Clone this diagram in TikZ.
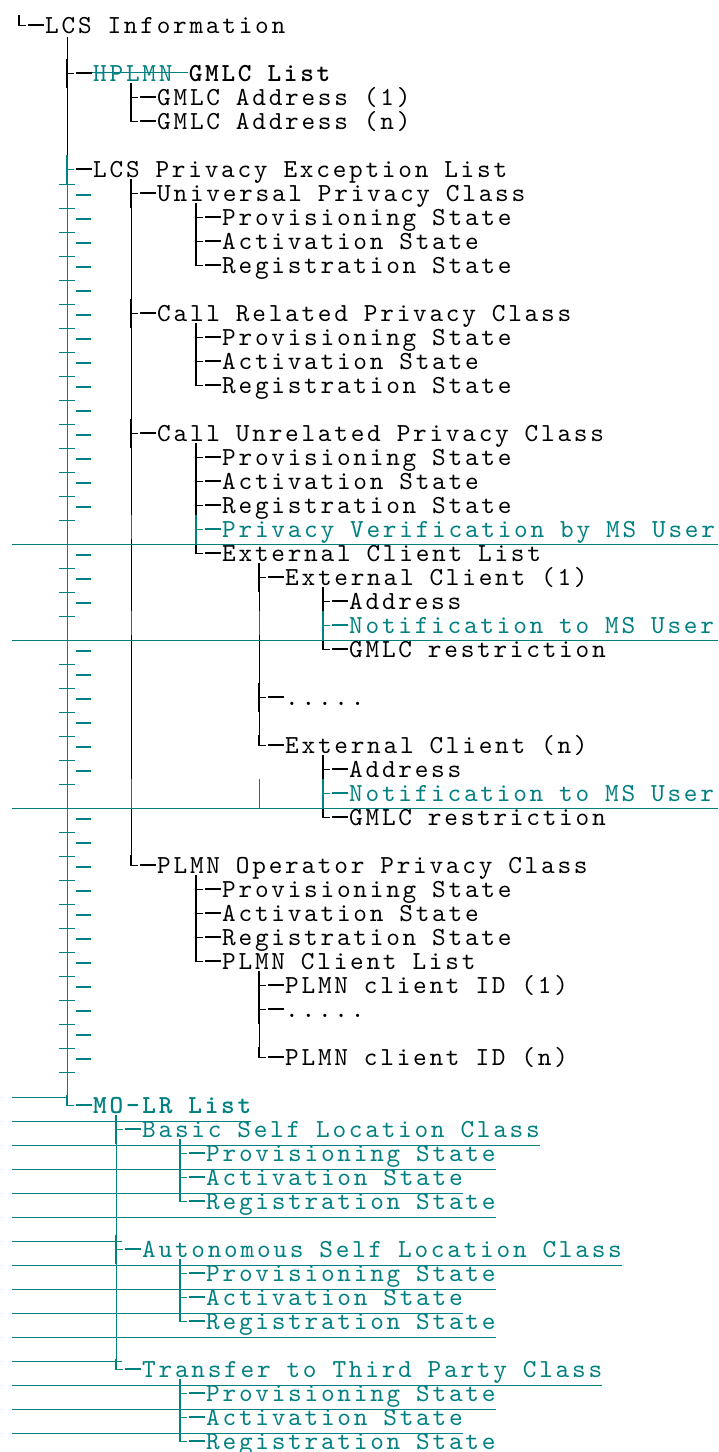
\documentclass[tikz,border=0pt]{standalone}
\usetikzlibrary{positioning}
\font\lcsfont="[lmmono10-regular]:letterspace=10.6" at 26pt
\font\lcsbold="[lmmonolt10-bold]:letterspace=10.6" at 26pt
\fontdimen2\lcsfont=15.9pt \fontdimen3\lcsfont=0pt \fontdimen4\lcsfont=0pt
\fontdimen2\lcsbold=15.9pt \fontdimen3\lcsbold=0pt \fontdimen4\lcsbold=0pt
\definecolor{tracked}{RGB}{0,128,128}
\tikzset{
	lbl/.style={anchor=west, inner sep=0pt, text height=20pt, text depth=4pt, font=\lcsfont},
	added/.style={lbl, text=tracked},
	wire/.style={line width=0.9pt},
	stem/.style={line width=1.6pt},
	stub/.style={line width=2pt},
}
% tree glyphs in front of a node: \tee = branch, \corner = last branch
\newcommand\tee[2][black]{%
	\draw[#1, stem] ([xshift=-26pt,yshift=14pt]#2.west) -- ([xshift=-26pt,yshift=-15pt]#2.west);
	\draw[#1, wire] ([xshift=-26pt]#2.west) -- ([xshift=-19pt]#2.west);
	\draw[#1, stub] ([xshift=-17pt]#2.west) -- ([xshift=-1pt]#2.west);}
\newcommand\corner[2][black]{%
	\draw[#1, stem] ([xshift=-26pt,yshift=10pt]#2.west) -- ([xshift=-26pt,yshift=-1pt]#2.west);
	\draw[#1, wire] ([xshift=-26.8pt]#2.west) -- ([xshift=-19pt]#2.west);
	\draw[#1, stub] ([xshift=-17pt]#2.west) -- ([xshift=-1pt]#2.west);}
% vertical line from a parent down to its last child
\newcommand\trunk[3][black]{%
	\draw[#1, wire] ([xshift=-26pt]#3.west |- #2.south) -- ([xshift=-26pt]#3.west);}
\begin{document}
\begin{tikzpicture}[x=1pt, y=-1pt]
	\useasboundingbox (0,0) rectangle (718,1452);
	% texts
	\node[lbl] (lcs) at (45,25) {LCS Information};
	\node[added] (hplmn) at (93,73) {HPLMN};
	\node[lbl, font=\lcsbold, right=15.9pt of hplmn] (gmlc) {GMLC List};
	\node[lbl] (addrA) at (157,97) {GMLC Address (1)};
	\node[lbl] (addrB) at (157,121) {GMLC Address (n)};
	\node[lbl] (excl) at (93,169) {LCS Privacy Exception List};
	\node[lbl] (univ) at (157,193) {Universal Privacy Class};
	\node[lbl] (univP) at (222,217) {Provisioning State};
	\node[lbl] (univA) at (222,241) {Activation State};
	\node[lbl] (univR) at (222,265) {Registration State};
	\node[lbl] (call) at (157,313) {Call Related Privacy Class};
	\node[lbl] (callP) at (222,337) {Provisioning State};
	\node[lbl] (callA) at (222,361) {Activation State};
	\node[lbl] (callR) at (222,385) {Registration State};
	\node[lbl] (unrel) at (157,433) {Call Unrelated Privacy Class};
	\node[lbl] (unrelP) at (222,457) {Provisioning State};
	\node[lbl] (unrelA) at (222,481) {Activation State};
	\node[lbl] (unrelR) at (222,505) {Registration State};
	\node[added] (verif) at (222,529) {Privacy Verification by MS User};
	\node[lbl] (ecl) at (222,553) {External Client List};
	\node[lbl] (ecA) at (285,577) {External Client (1)};
	\node[lbl] (ecAaddr) at (349,601) {Address};
	\node[added] (ecAnot) at (349,625) {Notification to MS User};
	\node[lbl] (ecAgmlc) at (349,649) {GMLC restriction};
	\node[lbl] (ecDots) at (285,697) {.....};
	\node[lbl] (ecB) at (285,745) {External Client (n)};
	\node[lbl] (ecBaddr) at (349,769) {Address};
	\node[added] (ecBnot) at (349,793) {Notification to MS User};
	\node[lbl] (ecBgmlc) at (349,817) {GMLC restriction};
	\node[lbl] (plmn) at (157,865) {PLMN Operator Privacy Class};
	\node[lbl] (plmnP) at (222,889) {Provisioning State};
	\node[lbl] (plmnA) at (222,913) {Activation State};
	\node[lbl] (plmnR) at (222,937) {Registration State};
	\node[lbl] (pcl) at (222,961) {PLMN Client List};
	\node[lbl] (pcA) at (285,985) {PLMN client ID (1)};
	\node[lbl] (pcDots) at (285,1009) {.....};
	\node[lbl] (pcB) at (285,1057) {PLMN client ID (n)};
	\node[added, font=\lcsbold] (molr) at (93,1105) {MO-LR List};
	\node[added] (basic) at (142,1129) {Basic Self Location Class};
	\node[added] (basicP) at (206,1153) {Provisioning State};
	\node[added] (basicA) at (206,1177) {Activation State};
	\node[added] (basicR) at (206,1201) {Registration State};
	\node[added] (auto) at (142,1249) {Autonomous Self Location Class};
	\node[added] (autoP) at (206,1273) {Provisioning State};
	\node[added] (autoA) at (206,1297) {Activation State};
	\node[added] (autoR) at (206,1321) {Registration State};
	\node[added] (third) at (142,1369) {Transfer to Third Party Class};
	\node[added] (thirdP) at (206,1393) {Provisioning State};
	\node[added] (thirdA) at (206,1417) {Activation State};
	\node[added] (thirdR) at (206,1441) {Registration State};
	% struck out word
	\draw[tracked, wire] ([xshift=-3pt,yshift=1pt]hplmn.west) -- ([xshift=-1pt,yshift=1pt]gmlc.west);
	% main trunk, black then tracked
	\draw[wire] ([xshift=-26pt]hplmn.west |- lcs.south) -- ([xshift=-26pt,yshift=14pt]excl.west);
	\draw[tracked, wire] ([xshift=-26pt,yshift=14pt]excl.west) -- ([xshift=-26pt]molr.west);
	\corner{lcs}
	\tee{hplmn}
	\trunk{hplmn}{addrB}
	\tee{addrA} \corner{addrB}
	\tee[tracked]{excl}
	\draw[stub] ([xshift=-17pt]excl.west) -- ([xshift=-1pt]excl.west);
	\trunk{excl}{plmn}
	\tee{univ} \tee{call} \tee{unrel} \corner{plmn}
	\trunk{univ}{univR}
	\tee{univP} \tee{univA} \corner{univR}
	\trunk{call}{callR}
	\tee{callP} \tee{callA} \corner{callR}
	\trunk{unrel}{ecl}
	\tee{unrelP} \tee{unrelA} \tee{unrelR} \corner{ecl}
	\trunk{ecl}{ecB}
	\tee{ecA} \tee{ecDots} \corner{ecB}
	\trunk{ecA}{ecAgmlc}
	\tee{ecAaddr} \corner{ecAgmlc}
	\trunk{ecB}{ecBgmlc}
	\tee{ecBaddr} \corner{ecBgmlc}
	\trunk{plmn}{pcl}
	\tee{plmnP} \tee{plmnA} \tee{plmnR} \corner{pcl}
	\trunk{pcl}{pcB}
	\tee{pcA} \tee{pcDots} \corner{pcB}
	% inserted lines recolour the bars they cross
	\draw[tracked, wire] (131,515) -- (131,539);
	\draw[tracked, wire] (131,611) -- (131,635);
	\draw[tracked, wire] (259,611) -- (259,635);
	\draw[tracked, wire] (131,779) -- (131,808);
	\draw[tracked, wire] (259,779) -- (259,808);
	\tee[tracked]{verif} \tee[tracked]{ecAnot} \tee[tracked]{ecBnot}
	% MO-LR part
	\corner[tracked]{molr}
	\trunk[tracked]{molr}{third}
	\tee[tracked]{basic} \tee[tracked]{auto} \corner[tracked]{third}
	\trunk[tracked]{basic}{basicR}
	\tee[tracked]{basicP} \tee[tracked]{basicA} \corner[tracked]{basicR}
	\trunk[tracked]{auto}{autoR}
	\tee[tracked]{autoP} \tee[tracked]{autoA} \corner[tracked]{autoR}
	\trunk[tracked]{third}{thirdR}
	\tee[tracked]{thirdP} \tee[tracked]{thirdA} \corner[tracked]{thirdR}
	% change marks in the margin
	\foreach \i in {6,...,43}
		\draw[tracked, wire] (59,{40+24*\i}) -- (75,{40+24*\i});
	\foreach \i in {7,...,20,22,23,24,26,27,28,29,30,31,33,34,...,43}
		\draw[tracked, stub] (76,{26.5+24*\i}) -- (91,{26.5+24*\i});
	\foreach \i in {21,25,32}
		\draw[tracked, wire] (12,{40+24*\i}) -- (718,{40+24*\i});
	% underlines of the inserted lines
	\foreach \n/\y in {molr/1121, basic/1145, basicP/1169, basicA/1193, basicR/1217, auto/1265, autoP/1289, autoA/1313, autoR/1337, third/1385, thirdP/1409, thirdA/1433}
		\draw[tracked, wire] (12,\y) -- (\n.east |- 0,\y);
	\draw[tracked, wire] (12,1097) -- (68,1097);
	\draw[tracked, wire] (12,1241) -- (122,1241);
	\draw[tracked, wire] (12,1361) -- (122,1361);
\end{tikzpicture}
\end{document}
